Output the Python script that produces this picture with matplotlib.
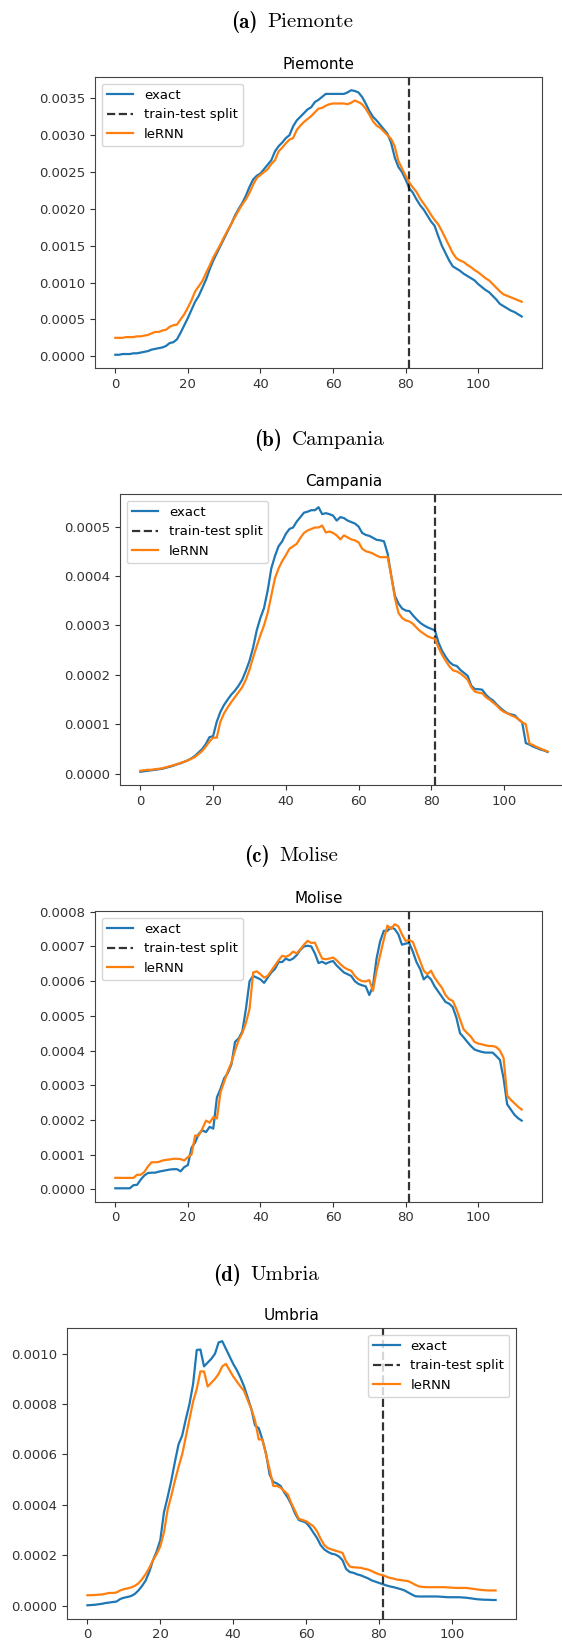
import numpy as np
import matplotlib
matplotlib.use("Agg")
import matplotlib.pyplot as plt

# values in units of 1e-5, day index 0..112
exact_piemonte = [2, 2, 3, 3, 3, 4, 4, 5, 6, 7,
                  9, 10, 11, 12, 14, 18, 19, 23, 32, 42,
                  52, 63, 74, 82, 93, 104, 118, 130, 140, 150,
                  160, 170, 180, 191, 200, 208, 218, 230, 240, 245,
                  248, 254, 260, 266, 278, 285, 290, 296, 300, 312,
                  320, 325, 330, 335, 338, 345, 348, 352, 356, 356,
                  356, 356, 356, 356, 358, 361, 360, 358, 352, 343,
                  333, 325, 320, 314, 308, 302, 290, 270, 257, 250,
                  240, 228, 222, 213, 205, 199, 191, 183, 177, 163,
                  150, 140, 130, 122, 119, 116, 112, 109, 106, 103,
                  98, 94, 90, 87, 82, 77, 71, 68, 65, 62,
                  60, 57, 54]
lernn_piemonte = [25, 25, 25, 26, 26, 26, 27, 27, 28, 29,
                  31, 33, 33, 35, 36, 40, 42, 43, 50, 57,
                  66, 76, 88, 95, 102, 113, 123, 134, 143, 152,
                  162, 171, 180, 189, 198, 206, 213, 222, 233, 242,
                  246, 250, 254, 261, 266, 278, 283, 289, 294, 296,
                  307, 313, 318, 322, 326, 331, 336, 337, 340, 342,
                  343, 343, 343, 343, 342, 344, 347, 345, 342, 336,
                  328, 319, 313, 310, 305, 300, 295, 285, 265, 255,
                  245, 236, 229, 223, 214, 207, 200, 192, 185, 179,
                  170, 160, 150, 140, 133, 130, 128, 124, 121, 117,
                  114, 110, 106, 103, 98, 93, 88, 84, 82, 80,
                  78, 76, 74]

exact_campania = [0.4, 0.5, 0.6, 0.7, 0.8, 0.9, 1.0, 1.2, 1.4, 1.6,
                  1.9, 2.1, 2.4, 2.7, 3.1, 3.6, 4.3, 5.0, 6.0, 7.4,
                  7.6, 10.5, 12.5, 13.9, 15.0, 16.0, 16.8, 17.8, 19.0, 20.8,
                  22.8, 25.5, 29.0, 31.5, 33.5, 37.0, 41.5, 44.0, 46.0, 47.0,
                  48.5, 49.5, 49.8, 51.0, 51.9, 52.8, 53.0, 53.3, 53.3, 53.9,
                  52.5, 52.7, 52.5, 52.2, 51.2, 51.9, 51.7, 51.2, 50.9, 50.6,
                  50.0, 48.7, 48.3, 48.1, 47.7, 47.3, 47.2, 47.0, 44.5, 40.0,
                  36.0, 34.4, 33.4, 33.0, 32.9, 32.0, 31.2, 30.5, 30.0, 29.6,
                  29.3, 29.0, 26.5, 24.8, 23.6, 22.6, 22.0, 21.8, 21.0, 20.4,
                  19.8, 17.8, 17.1, 17.1, 17.0, 16.0, 15.3, 14.8, 14.0, 13.3,
                  12.7, 12.2, 12.0, 11.8, 11.0, 10.4, 6.2, 5.9, 5.5, 5.2,
                  4.9, 4.7, 4.4]
lernn_campania = [0.6, 0.7, 0.8, 0.8, 0.9, 1.0, 1.1, 1.3, 1.5, 1.7,
                  1.9, 2.2, 2.4, 2.7, 3.0, 3.4, 4.0, 4.6, 5.5, 6.5,
                  7.3, 7.3, 10.5, 12.2, 13.4, 14.5, 15.5, 16.5, 17.5, 19.0,
                  21.0, 23.5, 25.8, 28.0, 30.0, 32.5, 36.0, 39.5, 41.5, 43.0,
                  44.2, 45.5, 46.0, 46.5, 47.7, 48.7, 49.2, 49.5, 49.8, 49.8,
                  50.2, 48.8, 49.0, 48.7, 48.2, 47.4, 48.2, 47.8, 47.4, 47.2,
                  46.8, 45.5, 45.0, 44.8, 44.5, 44.1, 43.8, 43.8, 43.8, 40.0,
                  35.5, 32.5, 31.5, 31.0, 30.8, 30.3, 29.5, 28.8, 28.3, 27.8,
                  27.5, 27.3, 25.5, 24.0, 22.8, 21.7, 20.9, 20.7, 20.3, 19.7,
                  19.0, 17.5, 16.6, 16.4, 16.3, 15.5, 15.0, 14.4, 13.8, 13.0,
                  12.5, 12.2, 11.8, 11.5, 11.0, 10.4, 10.0, 6.1, 5.8, 5.4,
                  5.1, 4.8, 4.5]

exact_molise = [0.3, 0.3, 0.3, 0.3, 0.3, 1.2, 1.3, 2.8, 4.0, 4.7,
                4.8, 4.8, 5.1, 5.3, 5.5, 5.7, 5.8, 5.8, 5.2, 6.4,
                7.0, 12.0, 13.5, 16.0, 17.0, 16.5, 18.0, 17.5, 26.5, 29.0,
                32.0, 33.5, 36.0, 42.5, 43.5, 45.5, 52.0, 60.0, 61.5, 61.0,
                60.5, 59.5, 61.0, 62.5, 63.5, 65.5, 65.5, 66.5, 66.0, 66.5,
                67.5, 69.0, 70.0, 70.2, 70.0, 68.0, 65.2, 65.6, 65.0, 65.5,
                65.8, 64.5, 63.5, 62.5, 62.0, 61.5, 60.0, 59.2, 58.8, 58.5,
                56.0, 58.5, 66.5, 71.5, 74.5, 74.5, 75.5, 75.0, 73.5, 70.5,
                70.8, 71.0, 68.5, 65.5, 63.5, 60.5, 61.5, 60.5, 58.5, 57.0,
                55.5, 54.0, 53.5, 52.5, 49.5, 45.0, 43.8, 42.5, 41.3, 40.3,
                39.9, 39.6, 39.4, 39.4, 39.4, 38.4, 37.3, 32.0, 24.5, 23.0,
                21.5, 20.5, 19.8]
lernn_molise = [3.3, 3.3, 3.3, 3.3, 3.3, 3.3, 4.2, 4.2, 5.0, 6.6,
                7.8, 7.8, 7.9, 8.3, 8.5, 8.6, 8.8, 8.8, 8.7, 8.3,
                9.3, 10.0, 15.5, 15.5, 17.5, 19.8, 19.2, 20.8, 20.4, 28.0,
                31.0, 34.0, 36.5, 40.0, 43.0, 45.0, 48.0, 52.0, 62.5, 62.8,
                62.0, 61.0, 61.5, 63.0, 64.5, 66.0, 67.3, 67.0, 67.5, 68.5,
                68.0, 69.2, 70.5, 71.6, 71.0, 71.1, 68.7, 66.5, 66.3, 66.5,
                66.8, 66.0, 64.9, 64.0, 63.4, 63.0, 61.5, 60.5, 60.0, 59.9,
                60.3, 57.2, 63.0, 67.5, 72.0, 76.0, 75.0, 76.4, 75.8, 73.5,
                71.6, 71.8, 71.3, 68.5, 65.8, 63.0, 62.0, 63.0, 61.0, 59.5,
                58.1, 56.0, 54.8, 54.3, 52.0, 49.0, 46.1, 45.0, 44.0, 42.5,
                42.0, 41.8, 41.5, 41.3, 41.3, 41.0, 40.0, 37.9, 27.0, 25.8,
                24.8, 23.8, 23.0]

exact_umbria = [0.1, 0.2, 0.3, 0.5, 0.7, 1.0, 1.2, 1.4, 1.6, 2.6,
                3.1, 3.4, 3.8, 4.6, 6.0, 7.8, 10.0, 13.5, 18.0, 21.5,
                26.0, 37.0, 43.0, 49.5, 57.0, 64.0, 67.5, 74.0, 80.0, 88.0,
                101.5, 101.7, 95.0, 96.5, 98.0, 100.0, 104.5, 105.0, 102.0, 99.0,
                96.0, 93.5, 90.5, 87.0, 82.5, 78.0, 71.5, 70.5, 66.0, 60.5,
                52.0, 49.1, 48.5, 47.5, 45.0, 42.8, 40.0, 36.5, 34.0, 33.5,
                32.9, 31.2, 29.0, 26.8, 24.0, 22.3, 21.3, 20.6, 20.3, 19.5,
                18.0, 14.5, 13.3, 13.0, 12.4, 12.0, 11.4, 10.8, 10.0, 9.5,
                9.0, 8.5, 8.0, 7.6, 7.3, 6.9, 6.5, 6.0, 5.2, 4.4,
                3.7, 3.6, 3.6, 3.6, 3.6, 3.6, 3.6, 3.5, 3.4, 3.3,
                3.3, 3.3, 3.3, 3.2, 3.1, 2.9, 2.7, 2.5, 2.4, 2.3,
                2.3, 2.2, 2.2]
lernn_umbria = [4.1, 4.1, 4.2, 4.3, 4.4, 4.7, 5.0, 5.0, 5.2, 6.0,
                6.5, 6.8, 7.2, 7.8, 8.8, 10.5, 12.5, 15.0, 18.0, 20.5,
                23.5, 29.0, 38.0, 43.5, 49.5, 55.0, 60.0, 67.0, 74.0, 81.0,
                86.0, 93.0, 93.0, 87.0, 88.5, 90.0, 92.0, 95.0, 96.0, 93.5,
                91.0, 89.0, 87.0, 85.2, 81.5, 78.0, 73.5, 66.0, 66.0, 60.0,
                54.0, 47.5, 47.5, 46.8, 45.5, 44.1, 40.5, 37.5, 34.5, 34.0,
                33.5, 32.5, 31.5, 29.5, 26.5, 24.0, 22.8, 22.3, 21.8, 21.4,
                20.9, 17.5, 15.5, 15.2, 15.1, 15.0, 14.6, 14.3, 13.7, 13.0,
                12.4, 12.1, 11.5, 11.0, 10.7, 10.3, 10.1, 9.9, 9.7, 9.0,
                8.2, 7.6, 7.4, 7.3, 7.3, 7.3, 7.3, 7.3, 7.3, 7.2,
                7.1, 7.0, 7.0, 7.0, 7.0, 6.8, 6.6, 6.4, 6.2, 6.1,
                6.0, 6.0, 6.0]

regions = ["Piemonte", "Campania", "Molise", "Umbria"]
letters = ["(a)", "(b)", "(c)", "(d)"]
exacts = [exact_piemonte, exact_campania, exact_molise, exact_umbria]
lernns = [lernn_piemonte, lernn_campania, lernn_molise, lernn_umbria]
split_day = 81

W, H = 562, 1642
fig = plt.figure(figsize=(W / 100, H / 100), dpi=100)
renderer = fig.canvas.get_renderer()

# axes boxes in pixels: left, top, right, bottom
boxes = [(95, 77, 542, 368),
         (120, 494, 568, 785),
         (95, 911, 542, 1201.5),
         (67, 1328, 516, 1618.5)]
# caption centres in pixels
captions = [(292, 22), (319, 440), (291, 856), (266, 1275)]
legend_locs = ["upper left", "upper left", "upper left", "upper right"]
cap_size = 15
gap = 10  # px between "(a)" and the name

for k in range(4):
    l, t, r, b = boxes[k]
    ax = fig.add_axes([l / W, 1 - b / H, (r - l) / W, (b - t) / H])
    x = np.arange(len(exacts[k]))
    ax.plot(x, np.array(exacts[k]) * 1e-5, color="tab:blue", lw=1.6, label="exact")
    ax.axvline(split_day, color="k", ls="--", lw=1.6, alpha=0.8, label="train-test split")
    ax.plot(x, np.array(lernns[k]) * 1e-5, color="tab:orange", lw=1.6, label="leRNN")
    ax.set_title(regions[k], fontsize=11)
    ax.tick_params(labelsize=9.5, colors="#333333")
    for s in ax.spines.values():
        s.set_color("#444444")
    ax.legend(loc=legend_locs[k], fontsize=9.5)

    # caption: bold label + roman name, centred together
    cx, cy = captions[k]
    t1 = fig.text(0, 1 - cy / H, letters[k], family="cmb10", fontsize=cap_size,
                  ha="left", va="center")
    t2 = fig.text(0, 1 - cy / H, regions[k], family="cmr10", fontsize=cap_size,
                  ha="left", va="center")
    w1 = t1.get_window_extent(renderer).width
    w2 = t2.get_window_extent(renderer).width
    x0 = cx - (w1 + gap + w2) / 2
    t1.set_x(x0 / W)
    t2.set_x((x0 + w1 + gap) / W)

fig.savefig("out.png", dpi=100)
